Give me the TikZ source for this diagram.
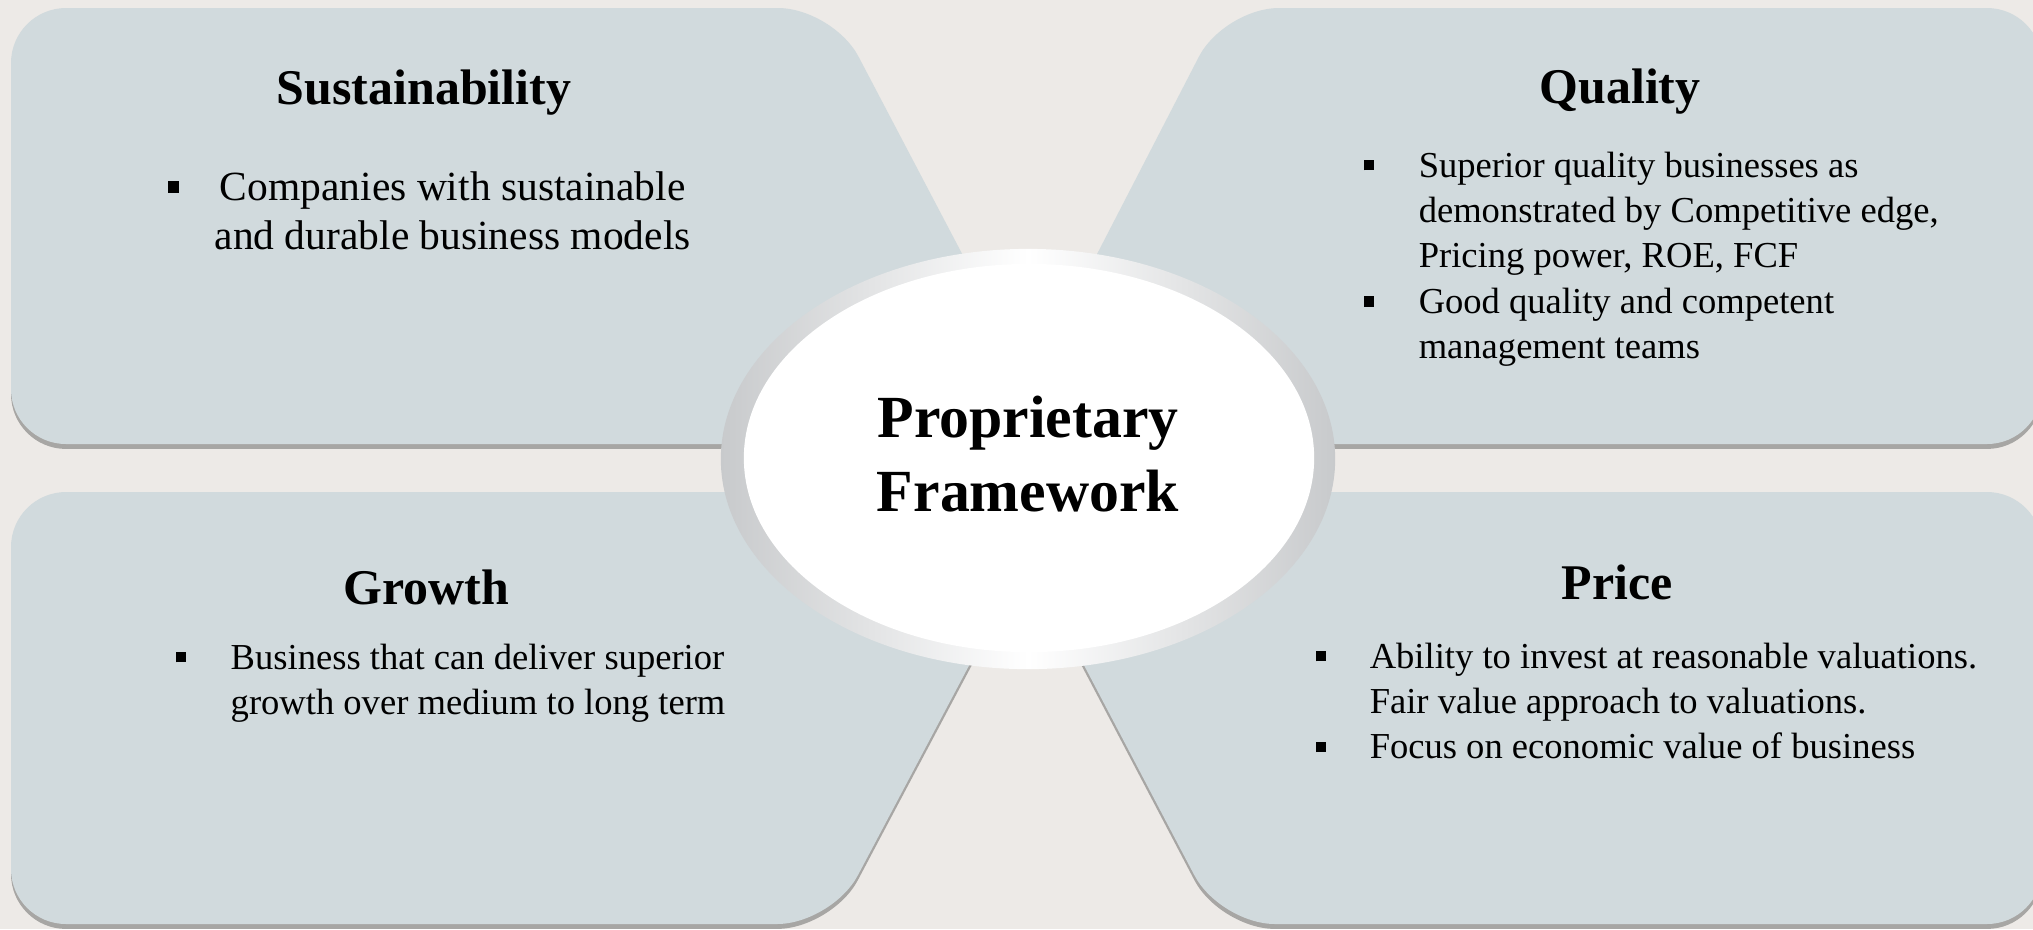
\documentclass[tikz,border=0pt]{standalone}
\usepackage{fontspec}
\setmainfont{Liberation Serif}
\usetikzlibrary{shapes.geometric,shadows}

\definecolor{backdrop}{RGB}{237,234,231}
\definecolor{panelgray}{RGB}{209,218,221}
\definecolor{ringgray}{RGB}{200,202,204}

\tikzstyle{panel}=[fill=panelgray, rounded corners=0.55cm,
  drop shadow={shadow xshift=0pt, shadow yshift=-1.4pt, opacity=0.4, fill=black!75}]
\tikzstyle{heading}=[anchor=base, inner sep=0pt, font=\fontsize{14.2}{17}\selectfont\bfseries]
\tikzstyle{points}=[anchor=base west, inner sep=0pt, font=\fontsize{10.4}{12.9}\selectfont]
\tikzstyle{ring}=[ellipse, minimum width=6.14cm, minimum height=4.2cm, inner sep=0pt,
  left color=ringgray, right color=ringgray, middle color=white]
\tikzstyle{hub}=[ellipse, fill=white, minimum width=5.7cm, minimum height=3.88cm, inner sep=0pt]
\tikzstyle{hubtext}=[align=center, inner sep=0pt, font=\fontsize{17}{21.2}\selectfont\bfseries]

\newcommand{\blt}{\rule[0.18em]{0.28em}{0.28em}}

\begin{document}
\begin{tikzpicture}[x=0.01cm, y=-0.01cm]
  \fill[backdrop] (0,0) rectangle (2033,929);
  \useasboundingbox (0,0) rectangle (2033,929);
  % four quadrants
  \fill[panel] (11,8) -- (833,8) -- (1062,444) -- (11,444) -- cycle;
  \fill[panel] (1224,8) -- (2042,8) -- (2042,444) -- (999,444) -- cycle;
  \fill[panel] (11,492) -- (1061,492) -- (832,924) -- (11,924) -- cycle;
  \fill[panel] (993,492) -- (2042,492) -- (2042,924) -- (1220,924) -- cycle;
  % centre
  \node[ring] (ring) at (1028,459) {};
  \node[hub] (hub) at (1029,458) {};
  \node[hubtext] (title) at (1028,454) {Proprietary\\Framework};
  \foreach \t/\x/\y [count=\i] in {Sustainability/424/104, Quality/1620/103,
      Growth/426/604, Price/1617/599} {%
    \node[heading] (head\i) at (\x,\y) {\t};
  }
  \node[points, font=\fontsize{11.8}{14}\selectfont] (sustpts) at (167,200)
    {\begin{tabular}[t]{@{}p{0.47cm}@{}c@{}}
      \blt & Companies with sustainable\\
           & and durable business models
    \end{tabular}};
  \node[points] (qualpts) at (1363,177)
    {\begin{tabular}[t]{@{}p{0.55cm}@{}l@{}}
      \blt & Superior quality businesses as\\
           & demonstrated by Competitive edge,\\
           & Pricing power, ROE, FCF\\
      \blt & Good quality and competent\\
           & management teams
    \end{tabular}};
  \node[points] (growpts) at (175,669)
    {\begin{tabular}[t]{@{}p{0.55cm}@{}l@{}}
      \blt & Business that can deliver superior\\
           & growth over medium to long term
    \end{tabular}};
  \node[points] (pricepts) at (1315,668)
    {\begin{tabular}[t]{@{}p{0.54cm}@{}l@{}}
      \blt & Ability to invest at reasonable valuations.\\
           & Fair value approach to valuations.\\
      \blt & Focus on economic value of business
    \end{tabular}};
\end{tikzpicture}
\end{document}
